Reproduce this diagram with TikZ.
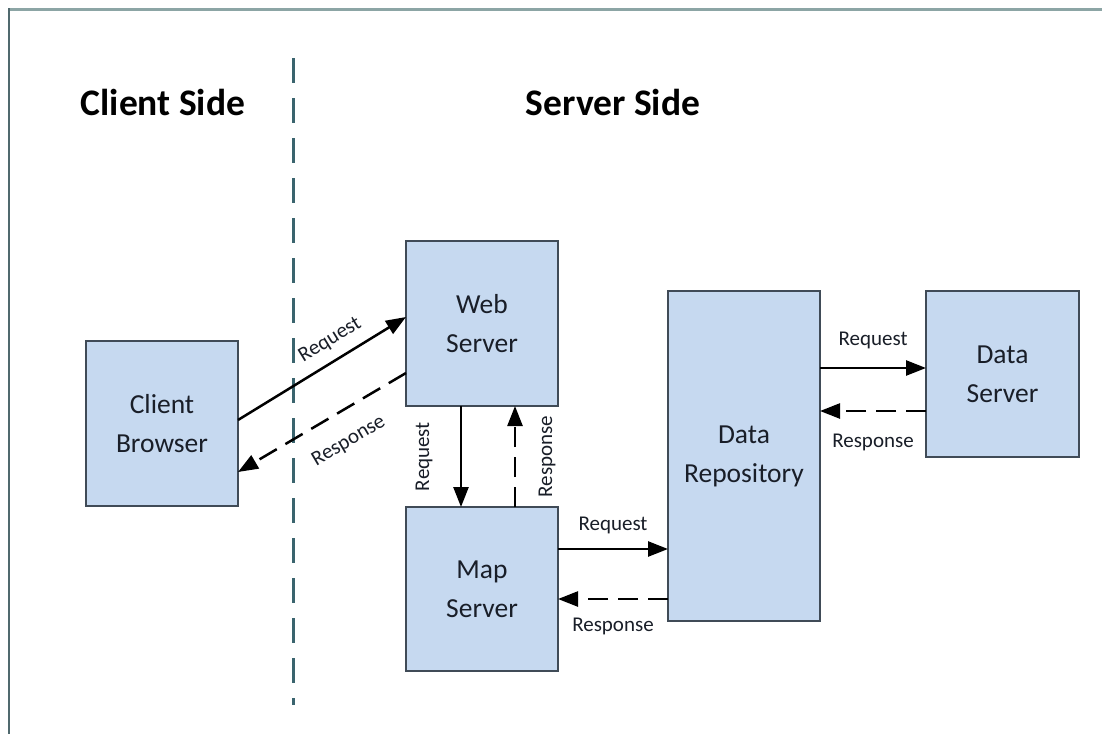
\documentclass[tikz,border=0pt]{standalone}
\usepackage{fontspec}
\setmainfont{Carlito}
\usetikzlibrary{arrows.meta,calc}
\definecolor{boxfill}{RGB}{198,217,240}
\definecolor{boxline}{RGB}{64,75,87}
\definecolor{divcol}{RGB}{58,100,110}
\definecolor{frametop}{RGB}{140,165,165}
\definecolor{frameleft}{RGB}{80,105,110}
\definecolor{txt}{RGB}{25,30,40}
\begin{document}
\begin{tikzpicture}[x=1pt,y=-1pt,
  box/.style={draw=boxline, line width=1.5pt, fill=boxfill, minimum width=152pt, align=center,
    inner sep=0pt, outer sep=0pt, text=txt, font=\fontsize{27.5}{39}\selectfont},
  title/.style={font=\fontsize{37.5}{44}\selectfont\bfseries, text=black},
  lab/.style={font=\fontsize{21}{24}\selectfont, text=txt, inner sep=2pt},
  req/.style={line width=2.5pt, -{Triangle[length=20pt,width=15pt]}},
  resp/.style={req, dash pattern=on 20pt off 10pt},
  divider/.style={draw=divcol, line width=3pt, dash pattern=on 25pt off 15pt}]
\useasboundingbox (0,0) rectangle (1102,734);
\fill[white] (0,0) rectangle (1102,734);
\draw[frametop, line width=3pt] (8,9.5) -- (1102,9.5);
\draw[frameleft, line width=2pt] (9,8) -- (9,734);

\node[box, minimum height=165pt] (cb) at (162,423.5) {Client\\Browser};
\node[box, minimum height=165pt] (ws) at (482,323.5) {Web\\Server};
\node[box, minimum height=164pt] (ms) at (482,589) {Map\\Server};
\node[box, minimum height=330pt] (dr) at (744,456) {Data\\Repository};
\node[box, minimum height=166pt, minimum width=153pt] (ds) at (1002.5,374) {Data\\Server};

\node[title] (cs) at (163,102) {Client Side};
\node[title] (ss) at (613,102) {Server Side};

\coordinate (dtop) at (293,58);
\coordinate (dbot) at (293,705);
\draw[divider] (dtop) -- (dbot);

\draw[req] ([yshift=3.5pt]cb.east) -- ([yshift=6.5pt]ws.west)
  node[lab, pos=0.61, sloped, above=8pt] {Request};
\draw[resp] ([yshift=-49.5pt]ws.west) -- ([yshift=-48.5pt]cb.east)
  node[lab, pos=0.43, sloped, below=18pt] {Response};

\draw[req] ([xshift=-21pt]ws.south) -- ([xshift=-21pt]ms.north)
  node[lab, midway, xshift=-37pt, rotate=90] {Request};
\draw[resp] ([xshift=33pt]ms.north) -- ([xshift=33pt]ws.south)
  node[lab, midway, xshift=32pt, rotate=90] {Response};

\draw[req] ([yshift=40pt]ms.east) -- ([yshift=40pt]ms.east -| dr.west)
  node[lab, midway, above=12pt] {Request};
\draw[resp] ([yshift=-10pt]ms.east -| dr.west) -- ([yshift=-10pt]ms.east)
  node[lab, midway, below=16pt] {Response};

\draw[req] ([yshift=6pt]ds.west -| dr.east) -- ([yshift=6pt]ds.west)
  node[lab, midway, above=16pt] {Request};
\draw[resp] ([yshift=-37pt]ds.west) -- ([yshift=-37pt]ds.west -| dr.east)
  node[lab, midway, below=20pt] {Response};
\end{tikzpicture}
\end{document}
